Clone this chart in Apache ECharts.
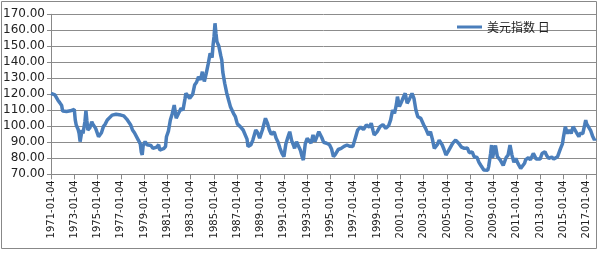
<!DOCTYPE html>
<html>
<head>
<meta charset="utf-8">
<script src="https://cdn.jsdelivr.net/npm/echarts@6/dist/echarts.min.js"></script>
<style>html,body{margin:0;padding:0;background:#fff;}#c{width:600px;height:257px;}</style>
</head>
<body>
<div id="c"></div>
<script>
const seriesName = '美元指数 日';
const startYear = 1971;
const tickSuffix = '-01-04';
const yTicks = [70, 80, 90, 100, 110, 120, 130, 140, 150, 160, 170];

const dates = [
'1971-01','1971-03','1971-05','1971-07','1971-08','1971-10','1971-12',
'1972-01','1972-03','1972-05','1972-07','1972-09','1972-11',
'1973-01','1973-02','1973-03','1973-05','1973-06','1973-07','1973-08','1973-09','1973-10','1973-12',
'1974-01','1974-02','1974-03','1974-05','1974-07','1974-08','1974-09','1974-11','1974-12',
'1975-02','1975-03','1975-05','1975-07','1975-09','1975-11',
'1976-01','1976-04','1976-06','1976-08','1976-10',
'1977-01','1977-04','1977-07','1977-09','1977-11',
'1978-01','1978-03','1978-05','1978-07','1978-09','1978-10','1978-11','1978-12',
'1979-02','1979-04','1979-06','1979-08','1979-10','1979-12',
'1980-02','1980-04','1980-05','1980-07','1980-09','1980-11','1980-12',
'1981-02','1981-04','1981-06','1981-08','1981-10','1981-12',
'1982-03','1982-05','1982-07','1982-08','1982-10','1982-12',
'1983-03','1983-05','1983-07','1983-09','1983-11',
'1984-01','1984-03','1984-05','1984-07','1984-09','1984-11','1984-12',
'1985-01','1985-02','1985-03','1985-04','1985-06','1985-08','1985-09','1985-10','1985-12',
'1986-02','1986-04','1986-06','1986-09','1986-11',
'1987-01','1987-04','1987-07','1987-09','1987-11','1987-12',
'1988-03','1988-05','1988-08','1988-10','1988-12',
'1989-03','1989-06','1989-08','1989-10','1989-12',
'1990-03','1990-05','1990-07','1990-09','1990-11',
'1991-01','1991-03','1991-05','1991-07','1991-09','1991-11','1991-12',
'1992-02','1992-04','1992-06','1992-08','1992-09','1992-11',
'1993-01','1993-03','1993-05','1993-07','1993-09','1993-11',
'1994-01','1994-04','1994-06','1994-09','1994-12',
'1995-02','1995-04','1995-06','1995-09','1995-12',
'1996-03','1996-06','1996-09','1996-12',
'1997-03','1997-05','1997-08','1997-11',
'1998-02','1998-05','1998-07','1998-09','1998-10',
'1999-01','1999-04','1999-07','1999-10',
'2000-01','2000-03','2000-05','2000-07','2000-09','2000-10','2000-12',
'2001-02','2001-04','2001-06','2001-08','2001-10',
'2002-01','2002-03','2002-05','2002-07','2002-10',
'2003-01','2003-03','2003-06','2003-08','2003-10','2003-12',
'2004-03','2004-05','2004-08','2004-10','2004-12',
'2005-02','2005-04','2005-07','2005-10',
'2006-01','2006-04','2006-07','2006-10','2006-12',
'2007-03','2007-05','2007-08','2007-10','2007-12',
'2008-03','2008-05','2008-07','2008-08','2008-10','2008-11','2008-12',
'2009-03','2009-05','2009-08','2009-11',
'2010-02','2010-04','2010-06','2010-08','2010-10','2010-12',
'2011-02','2011-05','2011-07','2011-09','2011-10',
'2012-01','2012-03','2012-06','2012-09','2012-11',
'2013-01','2013-03','2013-06','2013-08','2013-10',
'2014-01','2014-03','2014-05','2014-07','2014-08','2014-10','2014-12',
'2015-01','2015-03','2015-05','2015-07','2015-09','2015-11',
'2016-01','2016-03','2016-05','2016-06','2016-09','2016-11','2016-12',
'2017-01','2017-03','2017-05','2017-07','2017-09','2017-10'
];

const values = [
120.6,120.2,119.6,118.8,116.5,114.8,113.0,
109.5,108.8,109.3,109.0,109.7,110.2,
110.6,104.0,100.8,98.0,95.5,90.4,94.0,97.7,95.5,103.0,
109.7,103.5,97.7,99.0,102.9,101.5,102.0,98.7,97.0,
93.5,94.5,96.0,99.8,101.5,103.9,
105.0,107.0,108.1,107.5,106.8,
107.0,106.5,104.5,103.9,101.0,
97.7,96.0,96.5,91.4,89.0,84.0,82.1,88.0,
90.4,88.5,87.3,88.0,86.2,86.2,
87.0,88.5,85.2,84.8,86.0,87.3,93.5,
97.0,103.9,108.0,113.3,105.0,104.5,
111.3,110.0,117.0,120.6,119.0,117.5,
120.0,125.8,127.5,131.0,129.0,
134.1,128.0,133.1,139.0,145.6,143.0,150.8,
156.0,164.4,158.0,152.9,150.0,144.0,141.4,134.0,126.9,
121.0,116.4,112.0,108.1,106.0,
101.5,99.8,97.7,98.5,92.0,87.3,
88.5,91.4,97.7,96.0,92.5,
98.0,105.0,102.0,97.7,95.0,
96.5,92.5,90.0,86.2,83.1,
81.0,89.0,93.0,96.6,91.0,88.0,86.2,
90.4,89.5,85.0,80.5,78.9,89.0,
92.5,93.0,89.5,94.6,90.5,93.5,
96.6,93.0,90.0,89.4,88.5,
86.0,81.0,82.5,85.5,86.2,
87.5,88.3,87.5,87.3,
93.5,97.7,99.5,98.0,
100.8,99.5,101.9,97.0,94.6,
96.5,99.8,101.0,98.7,
100.5,104.0,110.2,108.0,114.0,118.5,112.3,
115.0,118.0,120.6,114.4,116.5,
120.6,117.5,110.2,106.0,105.0,
101.0,98.7,94.5,96.6,92.0,86.2,
88.5,91.4,88.5,85.5,82.1,
84.0,84.5,89.5,91.4,
89.4,87.0,86.2,86.5,83.5,
84.0,81.0,80.5,77.5,75.5,
72.7,73.0,72.5,74.8,83.0,88.3,80.5,
88.0,81.0,78.9,75.5,
80.5,82.0,88.3,82.0,77.5,80.0,
77.0,73.7,74.5,76.9,79.0,
80.5,79.0,83.1,79.5,80.0,
79.5,83.0,84.1,81.5,80.0,
80.8,79.5,80.0,81.0,82.1,86.0,89.0,
93.0,99.8,95.5,97.7,95.5,99.8,
99.0,95.5,93.5,95.5,95.5,101.0,103.9,
101.5,100.5,97.5,94.0,91.5,92.5
];

function toOffset(d) {
  const p = d.split('-');
  return (+p[0] - startYear) + (+p[1] - 1) / 12;
}
const seriesData = dates.map((d, i) => [toOffset(d), values[i]]);

const chart = echarts.init(document.getElementById('c'), null, {renderer: 'canvas'});
chart.setOption({
  animation: false,
  backgroundColor: '#fff',
  textStyle: {fontFamily: 'DejaVu Sans'},
  grid: {left: 50, right: 4, top: 14.3, bottom: 82.7, containLabel: false},
  legend: {
    data: [seriesName],
    left: 452, top: 16,
    icon: 'rect', itemWidth: 25, itemHeight: 3,
    textStyle: {fontSize: 12, color: '#222', fontFamily: 'Noto Sans CJK SC'}
  },
  xAxis: {
    type: 'value', min: 0, max: 46.8, interval: 2,
    axisLine: {show: true, lineStyle: {color: '#888', width: 1}},
    axisTick: {show: true, length: 5, lineStyle: {color: '#888'}},
    splitLine: {show: false},
    axisLabel: {
      rotate: 90, fontSize: 10, color: '#222', margin: 6,
      showMaxLabel: false,
      formatter: v => Math.abs(v - Math.round(v)) > 1e-6 ? '' : (startYear + Math.round(v)) + tickSuffix
    }
  },
  yAxis: {
    type: 'value', min: yTicks[0], max: yTicks[yTicks.length - 1], interval: 10,
    axisLine: {show: true, lineStyle: {color: '#888', width: 1}},
    axisTick: {show: true, length: 4, lineStyle: {color: '#888'}},
    splitLine: {show: true, lineStyle: {color: '#8c8c8c', width: 1}},
    axisLabel: {fontSize: 12, color: '#222', margin: 6, formatter: v => v.toFixed(2)}
  },
  graphic: [{
    type: 'rect', shape: {x: 1.5, y: 1.5, width: 595, height: 247},
    style: {fill: 'none', stroke: '#888', lineWidth: 1}, silent: true
  }],
  series: [{
    name: seriesName, type: 'line', data: seriesData,
    showSymbol: false, symbol: 'none',
    lineStyle: {width: 3.5, color: '#4a7ebb'}, itemStyle: {color: '#4a7ebb'}
  }]
});
</script>
</body>
</html>
